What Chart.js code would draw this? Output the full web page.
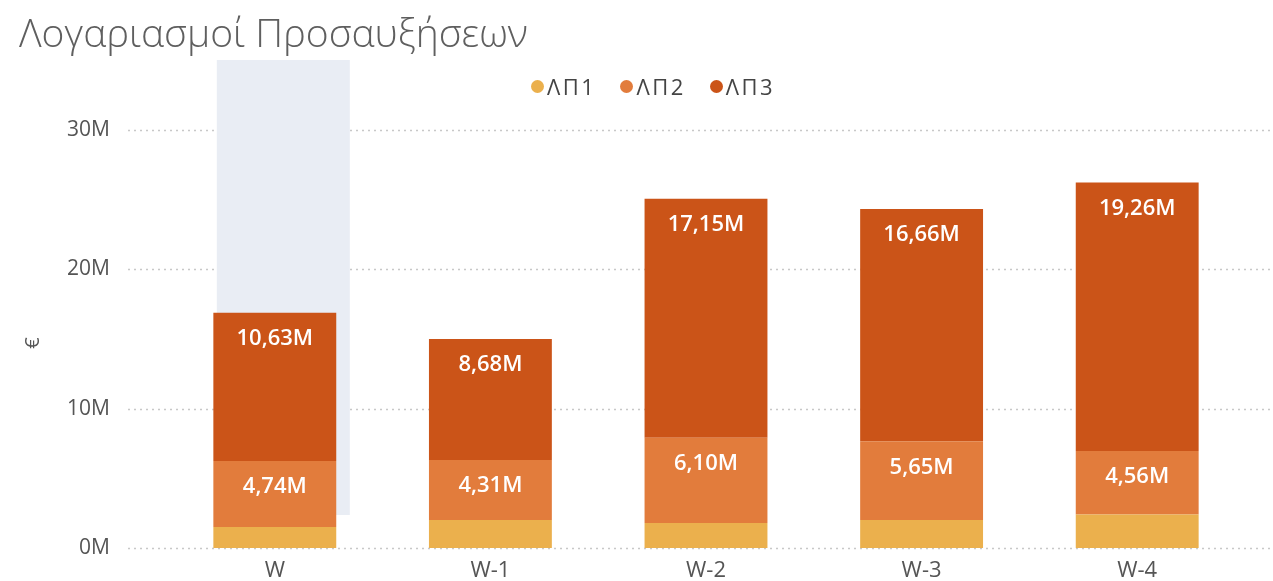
<!DOCTYPE html>
<html>
<head>
<meta charset="utf-8">
<script src="https://cdn.jsdelivr.net/npm/chart.js@4"></script>
<style>
  body { margin: 0; background: #fff; font-family: 'Open Sans', sans-serif; }
  #wrap { position: relative; width: 1273px; height: 581px; }
  #title { position: absolute; left: 19px; top: 12px; font-size: 39px; line-height: 1; font-weight: 300; color: #5f5f5f; }
  #legend { position: absolute; left: 531px; top: 71px; display: flex; font-size: 22px; color: #444; letter-spacing: 2.5px; }
  #legend span.item { display: flex; align-items: center; margin-right: 24px; }
  #legend span.dot { width: 13px; height: 13px; border-radius: 50%; margin-right: 3px; display: inline-block; }
  canvas { position: absolute; left: 0; top: 0; }
</style>
</head>
<body>
<div id="wrap">
  <canvas id="barChart" width="1273" height="581"></canvas>
  <div id="title">Λογαριασμοί Προσαυξήσεων</div>
  <div id="legend"></div>
</div>
<script>
// values in millions
const categories = ['W', 'W-1', 'W-2', 'W-3', 'W-4'];
const lp1 = [1.5, 2.0, 1.8, 2.0, 2.4];
const lp2 = [4.74, 4.31, 6.10, 5.65, 4.56];
const lp3 = [10.63, 8.68, 17.15, 16.66, 19.26];
const yTicks = [0, 10, 20, 30];
const seriesNames = ['ΛΠ1', 'ΛΠ2', 'ΛΠ3'];
const colors = ['#ebb04d', '#e27c3c', '#cb5418'];
const yTitle = '€';

const fmt = v => v.toFixed(2).replace('.', ',') + 'M';

// light highlight behind the selected category (W)
const highlightBand = {
  id: 'highlightBand',
  beforeDatasetsDraw(chart) {
    const { ctx, chartArea, scales } = chart;
    const x = scales.x.getPixelForValue(0);
    ctx.save();
    ctx.fillStyle = '#e9edf4';
    ctx.fillRect(x - 58, chartArea.top, 133, chartArea.bottom - chartArea.top - 33);
    ctx.restore();
  }
};

// dotted gridlines that run past the plot area like in the original, plus the axis title
const dottedGrid = {
  id: 'dottedGrid',
  beforeDraw(chart) {
    const { ctx, chartArea, scales } = chart;
    ctx.save();
    ctx.strokeStyle = '#c8c8c8';
    ctx.lineWidth = 1.5;
    ctx.setLineDash([2, 4]);
    yTicks.forEach(t => {
      const y = Math.round(scales.y.getPixelForValue(t)) + 0.5;
      ctx.beginPath();
      ctx.moveTo(chartArea.left - 39, y);
      ctx.lineTo(chart.width, y);
      ctx.stroke();
    });
    ctx.setLineDash([]);
    ctx.translate(33, chartArea.top + (chartArea.bottom - chartArea.top) * 0.58);
    ctx.rotate(-Math.PI / 2);
    ctx.fillStyle = '#555';
    ctx.font = '20px "Open Sans"';
    ctx.textAlign = 'center';
    ctx.textBaseline = 'middle';
    ctx.fillText(yTitle, 0, 0);
    ctx.restore();
  }
};

// white value labels near the top of ΛΠ2 / ΛΠ3 segments
const segLabels = {
  id: 'segLabels',
  afterDatasetsDraw(chart) {
    const { ctx } = chart;
    ctx.save();
    ctx.fillStyle = '#ffffff';
    ctx.font = '600 22px "Open Sans"';
    ctx.textAlign = 'center';
    ctx.textBaseline = 'middle';
    [1, 2].forEach(di => {
      const meta = chart.getDatasetMeta(di);
      meta.data.forEach((bar, i) => {
        ctx.fillText(fmt(chart.data.datasets[di].data[i]), bar.x, bar.y + 26);
      });
    });
    ctx.restore();
  }
};

const datasets = [lp1, lp2, lp3].map((d, i) => ({
  label: seriesNames[i],
  data: d,
  backgroundColor: colors[i],
  borderWidth: 0,
  categoryPercentage: 1,
  barPercentage: 0.57
}));

const legendEl = document.getElementById('legend');
datasets.forEach(ds => {
  const item = document.createElement('span');
  item.className = 'item';
  item.innerHTML = '<span class="dot" style="background:' + ds.backgroundColor + '"></span>' + ds.label;
  legendEl.appendChild(item);
});

new Chart(document.getElementById('barChart'), {
  type: 'bar',
  data: { labels: categories, datasets: datasets },
  options: {
    responsive: false,
    animation: false,
    layout: { padding: { top: 60, right: 28, left: 0, bottom: 0 } },
    plugins: {
      legend: { display: false },
      tooltip: { enabled: false }
    },
    scales: {
      x: {
        stacked: true,
        grid: { display: false, drawTicks: false },
        border: { display: false },
        ticks: { color: '#555', font: { size: 22, family: 'Open Sans' }, padding: 10 },
        afterFit: s => { s.height = 33; }
      },
      y: {
        stacked: true,
        min: 0,
        max: 35,
        afterBuildTicks: s => { s.ticks = yTicks.map(v => ({ value: v })); },
        grid: { display: false, drawTicks: false },
        border: { display: false },
        ticks: {
          color: '#555',
          font: { size: 21, family: 'Open Sans' },
          padding: 57,
          callback: v => v + 'M'
        },
        afterFit: s => {
          s.width = 167;
          // the big tick padding should not push the plot area in
          s.paddingTop = 0;
          s.paddingBottom = 0;
        }
      }
    }
  },
  plugins: [dottedGrid, highlightBand, segLabels]
});
</script>
</body>
</html>
